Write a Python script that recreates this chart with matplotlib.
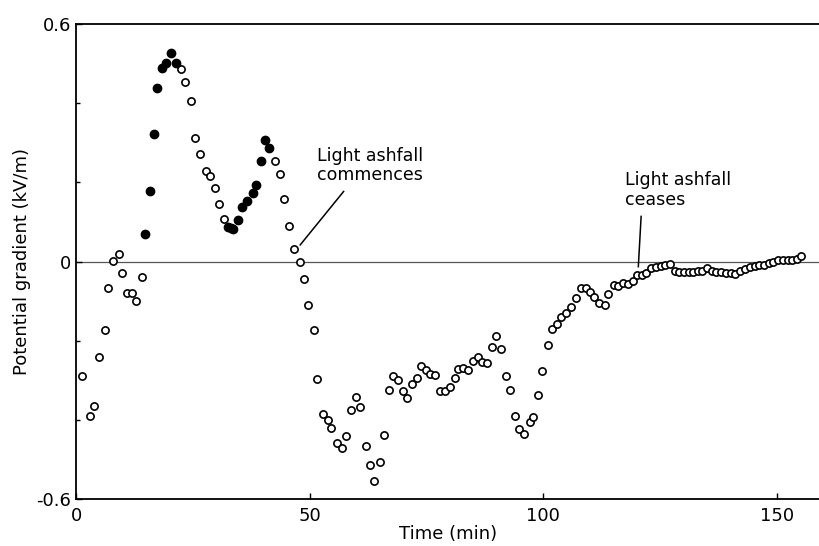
import matplotlib
matplotlib.use("Agg")
import matplotlib.pyplot as plt
from matplotlib.ticker import MultipleLocator

plt.rcParams["font.family"] = ["DejaVu Sans"]

# open circles: time (min), potential gradient (kV/m)
open_t = [1.2, 3.1, 3.9, 5.0, 6.1, 6.9, 7.9, 9.1, 9.9, 10.9, 12.0, 12.9, 14.1,
          22.4, 23.4, 24.6, 25.5, 26.5, 27.8, 28.6, 29.8, 30.6, 31.7,
          42.5, 43.7, 44.5, 45.7, 46.6, 47.9, 48.8, 49.7, 50.9, 51.7, 52.8, 53.9,
          54.6, 55.9, 56.9, 57.9, 58.9, 60.0, 60.9, 62.1, 62.9, 63.9, 65.1, 66.0,
          67.0, 67.9, 68.9, 70.0, 70.8, 71.9, 73.0, 73.9, 75.0, 75.9, 76.9, 78.0,
          78.9, 80.0, 81.1, 81.8, 82.9, 83.9, 84.9, 86.1, 86.9, 87.9, 89.0, 89.9,
          91.1, 92.0, 92.9, 94.1, 94.8, 95.9, 97.1, 97.9, 98.9, 99.8, 101.0, 101.9,
          102.9, 103.9, 105.0, 105.9, 107.0, 108.1, 109.1, 110.1, 111.0, 112.0,
          113.2, 114.0, 115.1, 116.1, 117.1, 118.2, 119.2, 120.1, 121.2, 122.1,
          123.2, 124.2, 125.2, 126.1, 127.1, 128.2, 129.2, 130.2, 131.2, 132.1,
          133.1, 134.1, 135.2, 136.1, 137.1, 138.1, 139.2, 140.2, 141.2, 142.2,
          143.3, 144.3, 145.3, 146.3, 147.3, 148.3, 149.3, 150.3, 151.4, 152.4,
          153.4, 154.3, 155.3]
open_v = [-0.289, -0.391, -0.366, -0.242, -0.172, -0.066, 0.001, 0.020, -0.030,
          -0.080, -0.080, -0.100, -0.040,
          0.486, 0.453, 0.406, 0.312, 0.272, 0.229, 0.215, 0.185, 0.146, 0.107,
          0.253, 0.221, 0.159, 0.091, 0.031, 0.000, -0.043, -0.109, -0.174, -0.297,
          -0.385, -0.401, -0.421, -0.459, -0.471, -0.440, -0.375, -0.341, -0.367,
          -0.465, -0.514, -0.555, -0.507, -0.438, -0.325, -0.288, -0.300, -0.327,
          -0.346, -0.310, -0.293, -0.263, -0.275, -0.284, -0.287, -0.328, -0.328,
          -0.316, -0.294, -0.271, -0.269, -0.274, -0.252, -0.242, -0.253, -0.257,
          -0.217, -0.187, -0.220, -0.290, -0.324, -0.390, -0.423, -0.436, -0.405,
          -0.393, -0.337, -0.277, -0.210, -0.171, -0.159, -0.139, -0.130, -0.115,
          -0.093, -0.066, -0.067, -0.077, -0.090, -0.105, -0.110, -0.082, -0.060,
          -0.062, -0.053, -0.058, -0.050, -0.035, -0.034, -0.029, -0.016, -0.014,
          -0.011, -0.010, -0.007, -0.023, -0.027, -0.027, -0.027, -0.027, -0.024,
          -0.023, -0.017, -0.024, -0.026, -0.027, -0.029, -0.029, -0.031, -0.024,
          -0.018, -0.014, -0.011, -0.008, -0.008, -0.004, 0.000, 0.004, 0.005,
          0.005, 0.005, 0.007, 0.014]

# filled circles
fill_t = [14.7, 15.8, 16.7, 17.4, 18.4, 19.3, 20.4, 21.4,
          32.6, 33.2, 33.6, 34.7, 35.5, 36.6, 37.8, 38.6, 39.6, 40.5, 41.4]
fill_v = [0.069, 0.177, 0.321, 0.438, 0.490, 0.501, 0.526, 0.501,
          0.088, 0.085, 0.083, 0.105, 0.138, 0.152, 0.174, 0.194, 0.254, 0.307, 0.286]

fig = plt.figure(figsize=(8.2, 5.46), dpi=100)
ax = fig.add_axes([0.0927, 0.086, 0.9073, 0.87])

ax.axhline(0, color="#555555", lw=0.9, zorder=1)
ax.plot(open_t, open_v, "o", ms=5.2, mfc="white", mec="black", mew=1.2, zorder=3)
ax.plot(fill_t, fill_v, "o", ms=6.0, mfc="black", mec="black", mew=1.0, zorder=3)

# leader lines for the two notes
ax.plot([57.3, 48.0], [0.177, 0.042], color="black", lw=1.1, zorder=2)
ax.plot([121.0, 120.4], [0.114, -0.013], color="black", lw=1.1, zorder=2)
ax.text(51.6, 0.29, "Light ashfall\ncommences", fontsize=12.5, va="top",
        ha="left", linespacing=1.1)
ax.text(117.6, 0.228, "Light ashfall\nceases", fontsize=12.5, va="top",
        ha="left", linespacing=1.1)

ax.set_xlim(0, 159.3)
ax.set_ylim(-0.6, 0.6)
ax.set_xticks([0, 50, 100, 150])
ax.set_yticks([-0.6, 0, 0.6])
ax.set_yticklabels(["-0.6", "0", "0.6"])
ax.yaxis.set_minor_locator(MultipleLocator(0.2))
ax.tick_params(which="both", direction="in", labelsize=13, length=4, width=1)
ax.tick_params(which="minor", length=3)
ax.tick_params(axis="x", pad=6)

for s in ["left", "bottom", "top"]:
    ax.spines[s].set_linewidth(1.3)
ax.spines["right"].set_visible(False)

ax.set_xlabel("Time (min)", fontsize=13, labelpad=0)
ax.set_ylabel("Potential gradient (kV/m)", fontsize=13, labelpad=4)

fig.savefig("out.png", dpi=100)
